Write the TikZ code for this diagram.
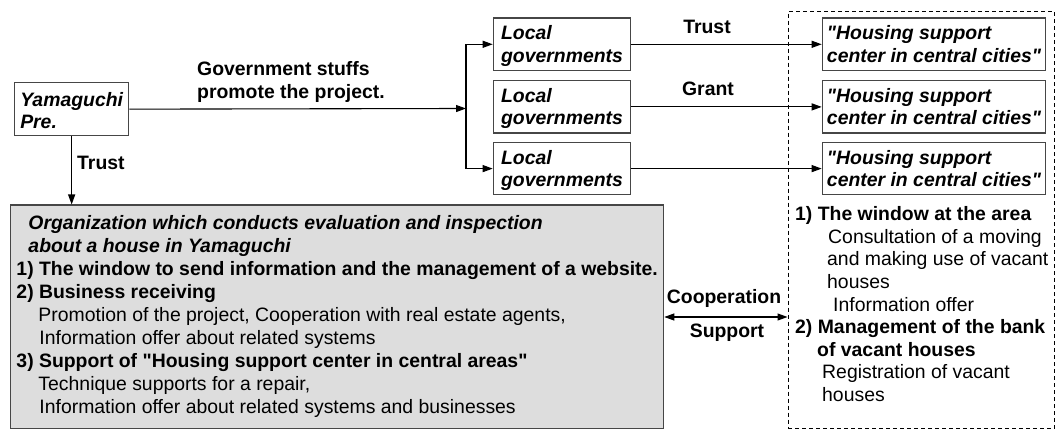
\documentclass[tikz,border=0pt]{standalone}
\usepackage{fontspec}
\setmainfont{Liberation Sans}
\usetikzlibrary{arrows.meta}
\definecolor{boxgray}{RGB}{221,221,221}
\definecolor{edgegray}{RGB}{70,70,70}
\font\qbi="Liberation Sans/BI" at 19.4pt
\font\qb="Liberation Sans/B" at 19.4pt
\newcommand\dqbi{{\qbi\char34}}
\newcommand\dqb{{\qb\char34}}
\newcommand\mystrut{\rule[-3.5pt]{0pt}{17.5pt}}
\begin{document}
\begin{tikzpicture}[x=1pt,y=-1pt,
  font=\fontsize{19.4}{23}\selectfont,
  box/.style={draw=edgegray, line width=1.3pt, align=left, inner sep=0pt,
    anchor=north west, font=\fontsize{19.4}{22.3}\selectfont\bfseries\itshape,
    text depth=4pt},
  lgbox/.style={box, text height=40pt},
  graybox/.style={draw=edgegray, line width=1.3pt, fill=boxgray, align=left,
    inner xsep=3pt, inner ysep=0pt, anchor=north west,
    font=\fontsize{19.4}{23}\selectfont, text height=198pt, text depth=4pt},
  zonebox/.style={draw=black, line width=1pt, dash pattern=on 4pt off 3pt,
    anchor=north west, inner sep=0pt},
  lbl/.style={inner sep=0pt, font=\fontsize{19.4}{23}\selectfont\bfseries},
  conn/.style={line width=1.1pt, draw=black},
  arr/.style={conn, -{Triangle[length=10pt,width=7pt]}},
  barr/.style={conn, {Triangle[length=10pt,width=7pt]}-{Triangle[length=10pt,width=7pt]}}
]
\useasboundingbox (0,0) rectangle (1056,430);

% dashed zone
\node[zonebox, minimum width=266pt, minimum height=417.5pt] (zone) at (787.5,10.7) {};

% left box
\node[box, text height=43.6pt, minimum width=114pt, minimum height=53pt] (yam) at (14,82) {Yamaguchi\\Pre.};

% local governments
\node[lgbox, minimum width=137.3pt, minimum height=52.7pt] (lg1) at (492.7,17.3) {Local\\governments};
\node[lgbox, minimum width=137.3pt, minimum height=52.5pt] (lg2) at (492.7,80) {Local\\governments};
\node[lgbox, minimum width=137.3pt, minimum height=52.5pt] (lg3) at (492.7,141.7) {Local\\governments};

% housing support centers
\node[lgbox, minimum width=223.3pt, minimum height=52.7pt] (hs1) at (821.7,17.3) {\dqbi Housing support\\center in central cities\dqbi};
\node[lgbox, minimum width=223.3pt, minimum height=52.5pt] (hs2) at (821.7,80) {\dqbi Housing support\\center in central cities\dqbi};
\node[lgbox, minimum width=223.3pt, minimum height=52.5pt] (hs3) at (821.7,141.7) {\dqbi Housing support\\center in central cities\dqbi};

% organization box
\node[graybox, minimum width=653pt, minimum height=223.5pt] (org) at (10,204.5) {%
{\bfseries\itshape\hspace*{12pt}Organization which conducts evaluation and inspection}\\
{\bfseries\itshape\hspace*{12pt}about a house in Yamaguchi}\\
\textbf{1) The window to send information and the management of a website.}\\
\textbf{2) Business receiving}\\
\hspace*{22pt}Promotion of the project, Cooperation with real estate agents,\\
\hspace*{23pt}Information offer about related systems\\
\textbf{3) Support of \dqb Housing support center in central areas\dqb}\\
\hspace*{22pt}Technique supports for a repair,\\
\hspace*{23pt}Information offer about related systems and businesses};

% zone text
\node[anchor=north west, inner sep=0pt, align=left, font=\fontsize{19.4}{22.6}\selectfont] (zonetext) at (795,206.5) {%
\mystrut\textbf{1) The window at the area}\\
\hspace*{33pt}Consultation of a moving\\
\hspace*{32pt}and making use of vacant\\
\hspace*{32pt}houses\\
\hspace*{38pt}Information offer\\
\textbf{2) Management of the bank}\\
\hspace*{22pt}\textbf{of vacant houses}\\
\hspace*{27pt}Registration of vacant\\
\hspace*{27pt}houses};

% labels
\node[lbl, anchor=north west, align=left] (govl) at (197,61) {\mystrut Government stuffs\\promote the project.};
\node[lbl, anchor=west] (trustl) at (77,163) {Trust};
\node[lbl] (trustr) at (707,27) {Trust};
\node[lbl] (grantl) at (708,89) {Grant};
\node[lbl] (coopl) at (724,298) {Cooperation};
\node[lbl] (suppl) at (727,333) {Support};

% connectors
\coordinate (split) at (466,108.5);
\coordinate (coop) at (725,317);
\draw[arr] (yam.east) -- (split);
\draw[conn] (split |- lg1.west) -- (split |- lg3.west);
\draw[arr] (split |- lg1.west) -- (lg1.west);
\draw[arr] (split |- lg3.west) -- (lg3.west);
\draw[arr] (lg1.east) -- (hs1.west);
\draw[arr] (lg2.east) -- (hs2.west);
\draw[arr] (lg3.east) -- (hs3.west);
\draw[arr] (yam.south) -- (yam.south |- org.north);
\draw[barr] (org.east |- coop) -- (zone.west |- coop);
\end{tikzpicture}
\end{document}
